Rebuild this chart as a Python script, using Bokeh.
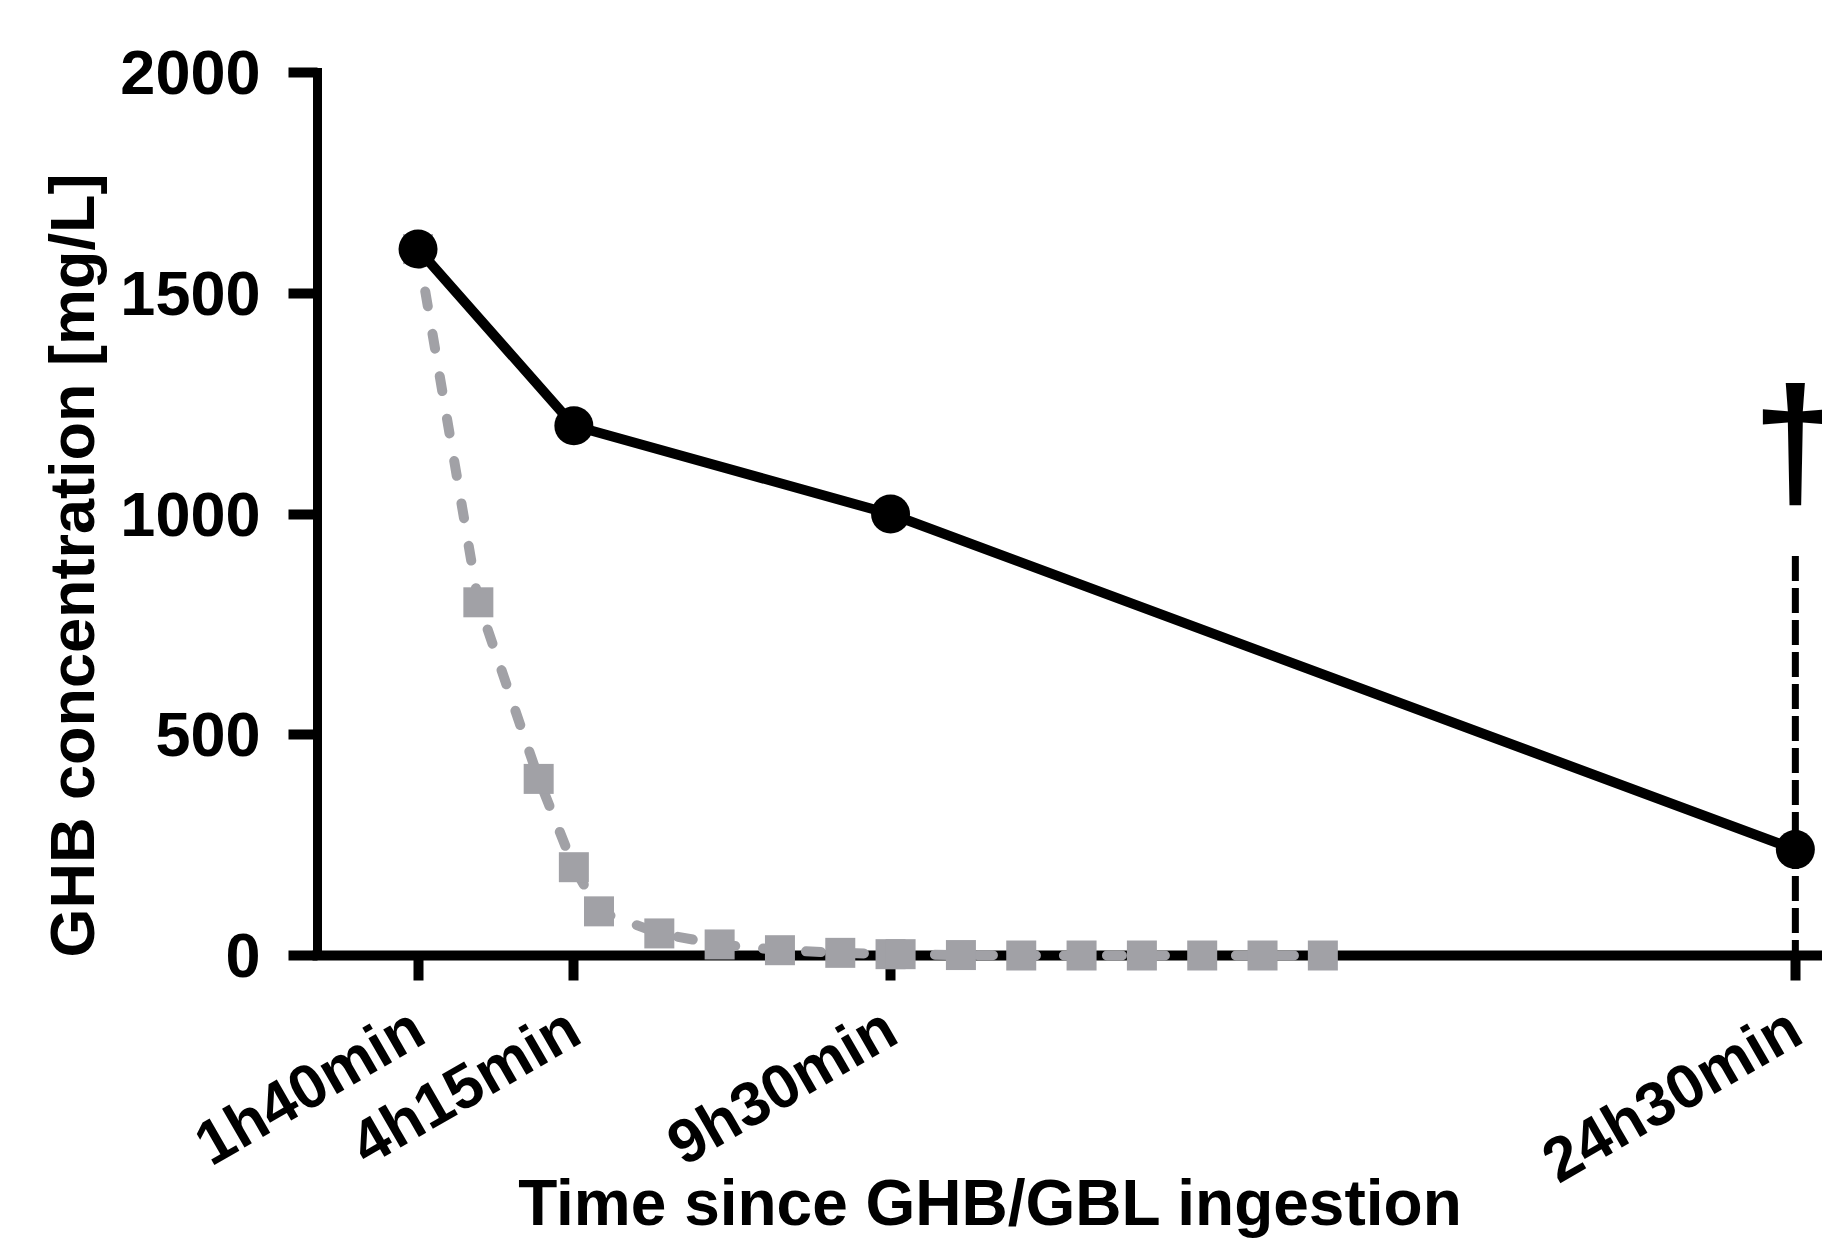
import math
from bokeh.plotting import figure
from bokeh.models import FixedTicker
from bokeh.core.properties import value
from bokeh.embed import file_html
from bokeh.resources import INLINE

# ---- data (time in minutes since ingestion) ----
case_minutes = [100, 255, 570, 1470]
case_labels = ["1h40min", "4h15min", "9h30min", "24h30min"]
case_ghb = [1600, 1200, 1000, 240]

model_minutes = [100, 160, 220, 255, 280, 340, 400, 460, 520, 570, 580,
                 640, 700, 760, 820, 880, 940, 1000]
model_ghb = [1600, 800, 400, 200, 100, 50, 25, 12, 6, 3, 3,
             1, 0, 0, 0, 0, 0, 0]

y_ticks = [0, 500, 1000, 1500, 2000]

death_minute = [1470]
death_line_top = [905]
death_mark_y = [1164]

x_title = "Time since GHB/GBL ingestion"
y_title = "GHB concentration [mg/L]"

FONT = "Liberation Sans"
GREY = "#a1a1a6"

p = figure(width=1822, height=1243, x_range=(0, 1497), y_range=(0, 2000),
           output_backend="svg", toolbar_location=None,
           min_border_left=317, min_border_right=0,
           min_border_top=72, min_border_bottom=288)
p.xgrid.visible = False
p.ygrid.visible = False
p.outline_line_color = None
p.background_fill_color = "white"
p.border_fill_color = "white"

xa = p.xaxis[0]
xa.ticker = FixedTicker(ticks=case_minutes)
xa.major_label_overrides = dict(zip(case_minutes, case_labels))
xa.major_label_orientation = math.pi / 6
xa.axis_line_width = 10
xa.axis_line_cap = "square"
xa.major_tick_line_width = 10
xa.major_tick_out = 25
xa.major_tick_in = 0
xa.minor_tick_out = 0
xa.minor_tick_in = 0
xa.major_label_standoff = 42
xa.major_label_text_font = FONT
xa.major_label_text_font_style = "bold"
xa.major_label_text_font_size = "62px"
xa.major_label_text_color = "black"

ya = p.yaxis[0]
ya.ticker = FixedTicker(ticks=y_ticks)
ya.axis_line_width = 9
ya.axis_line_cap = "square"
ya.major_tick_line_width = 10
ya.major_tick_out = 29
ya.major_tick_in = 0
ya.minor_tick_out = 0
ya.minor_tick_in = 0
ya.major_label_standoff = 28
ya.major_label_text_font = FONT
ya.major_label_text_font_style = "bold"
ya.major_label_text_font_size = "63px"
ya.major_label_text_color = "black"

# grey model curve (dashed, squares)
gl = p.line(model_minutes, model_ghb, line_color=GREY, line_width=10,
            line_dash="15 28", line_cap="round")
gl.level = "overlay"
gs = p.scatter(model_minutes, model_ghb, marker="square", size=30,
               fill_color=GREY, line_color=None)
gs.level = "overlay"

# measured case (solid black, circles)
bl = p.line(case_minutes, case_ghb, line_color="black", line_width=10)
bl.level = "overlay"
bc = p.scatter(case_minutes, case_ghb, marker="circle", size=39,
               fill_color="black", line_color=None)
bc.level = "overlay"

# death marker
ds = p.segment(x0=death_minute, y0=death_line_top, x1=death_minute, y1=[0],
               line_color="black", line_width=7, line_dash="25 7")
ds.level = "overlay"
dt = p.text(x=death_minute, y=death_mark_y, text=["\u2020"],
            text_font=value(FONT), text_font_style="bold", text_font_size="154px",
            text_align="center", text_baseline="alphabetic", text_color="black")
dt.level = "overlay"

# axis titles, anchored at the axes origin and offset in pixels
yt = p.text(x=[0], y=[0], text=[y_title], angle=math.pi / 2,
            x_offset=-246, y_offset=-390,
            text_font=value(FONT), text_font_style="bold", text_font_size="63px",
            text_align="center", text_baseline="alphabetic", text_color="black")
yt.level = "overlay"
xt = p.text(x=[0], y=[0], text=[x_title],
            x_offset=673, y_offset=247,
            text_font=value(FONT), text_font_style="bold", text_font_size="64px",
            text_align="center", text_baseline="alphabetic", text_color="black")
xt.level = "overlay"

open("out.html", "w").write(file_html(p, INLINE))
